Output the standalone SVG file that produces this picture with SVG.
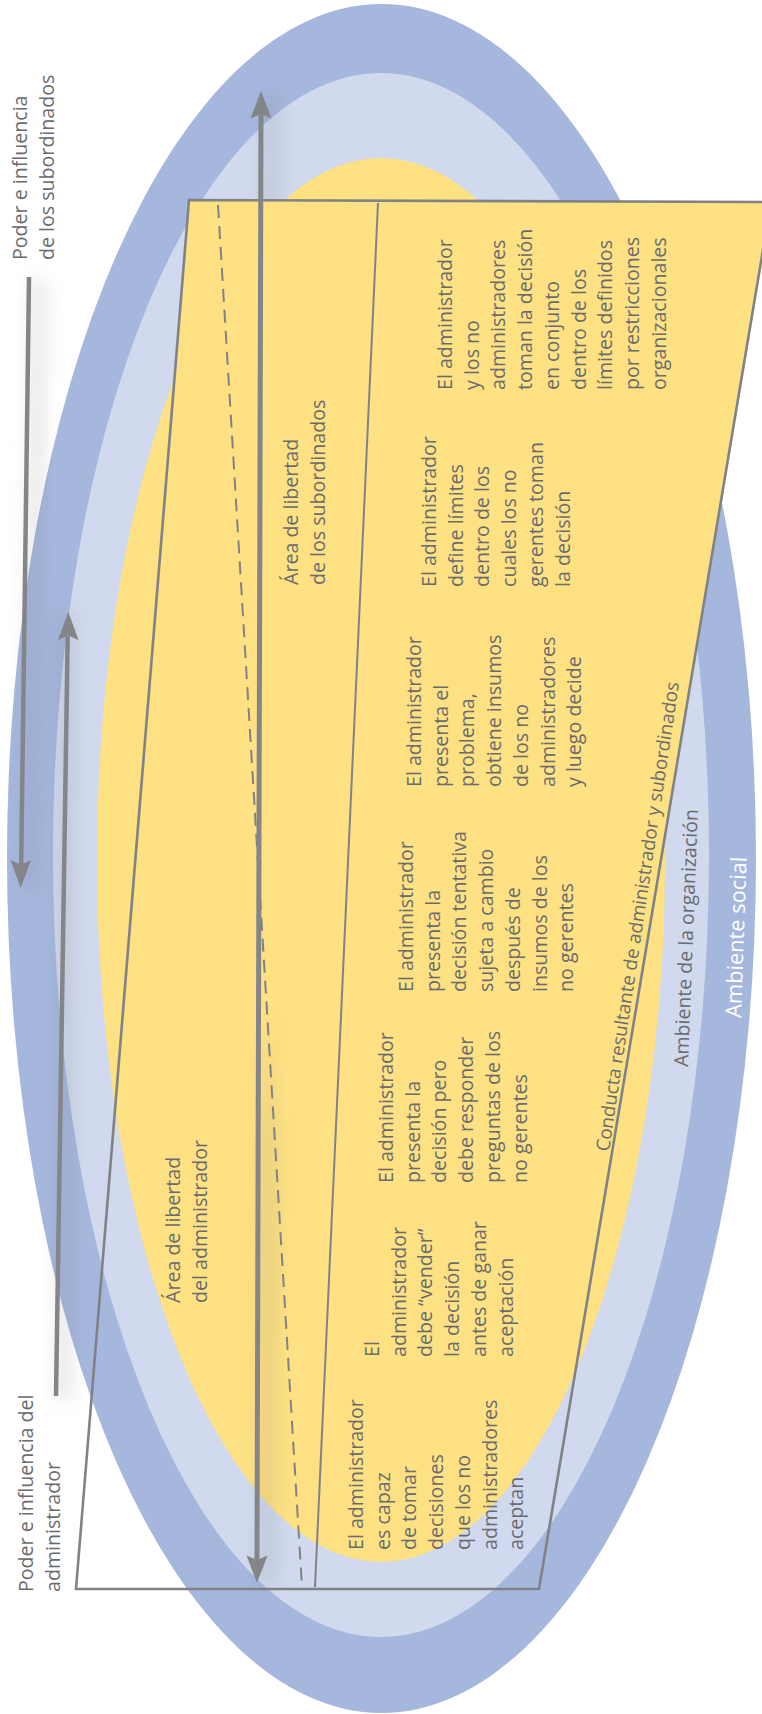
<svg xmlns="http://www.w3.org/2000/svg" width="762" height="1714" viewBox="0 0 762 1714">
  <defs>
    <style>
      .t { font-family: "Open Sans", "Liberation Sans", sans-serif; font-size: 19.6px; fill: #6a6b6f; }
      .c { font-family: "Open Sans", "Liberation Sans", sans-serif; font-size: 18.8px; fill: #6a6b6f; }
      .o { font-family: "Open Sans", "Liberation Sans", sans-serif; font-size: 19.5px; fill: #6a6b6f; }
      .w { font-family: "Open Sans", "Liberation Sans", sans-serif; font-size: 21.8px; fill: #ffffff; }
      .edge { fill: none; stroke: #818286; stroke-width: 2.6; stroke-linejoin: miter; }
      .thin { fill: none; stroke: #818286; stroke-width: 2; }
      .dash { fill: none; stroke: #818286; stroke-width: 2; stroke-dasharray: 13 8; }
      .shaft { fill: none; stroke: #848589; stroke-width: 5; }
      .shaft2 { fill: none; stroke: #848589; stroke-width: 4.5; }
      .head { fill: #848589; stroke: none; }
    </style>
    <linearGradient id="trapFill" gradientUnits="userSpaceOnUse" x1="0" y1="200" x2="0" y2="1589">
      <stop offset="0" stop-color="#fee183" stop-opacity="1"/>
      <stop offset="0.576" stop-color="#fee183" stop-opacity="1"/>
      <stop offset="0.684" stop-color="#fee183" stop-opacity="0"/>
      <stop offset="1" stop-color="#fee183" stop-opacity="0"/>
    </linearGradient>
    <filter id="soft" x="-50%" y="-10%" width="200%" height="120%">
      <feGaussianBlur stdDeviation="9"/>
    </filter>
  </defs>

  <rect x="0" y="0" width="762" height="1714" fill="#ffffff"/>

  <g id="ambiente-social">
    <ellipse cx="381.5" cy="858.5" rx="374.5" ry="854.5" fill="#a6b7dd"/>
  </g>
  <g id="ambiente-organizacion">
    <ellipse cx="381" cy="855" rx="328" ry="782" fill="#d0d9ed"/>
  </g>
  <g id="area-decision">
    <ellipse cx="381" cy="860" rx="284" ry="702" fill="#fee183"/>
  </g>

  <g id="shadows" filter="url(#soft)" opacity="0.22">
    <line x1="271" y1="95" x2="267" y2="1585" stroke="#6e6f73" stroke-width="12"/>
    <line x1="38" y1="280" x2="30" y2="890" stroke="#6e6f73" stroke-width="12"/>
    <line x1="66" y1="615" x2="64" y2="1400" stroke="#6e6f73" stroke-width="12"/>
  </g>

  <g id="conducta">
    <polygon points="189,200 771,202 539,1589 76,1589" fill="url(#trapFill)"/>
    <polygon class="edge" points="189,200 771,202 539,1589 76,1589"/>
  </g>

  <g id="connectors">
    <line class="dash" x1="218" y1="205" x2="302" y2="1587"/>
    <line class="thin" x1="378" y1="203" x2="315" y2="1587"/>
    <line class="shaft" x1="261" y1="112" x2="257" y2="1562"/>
    <polygon class="head" points="261,91 271.5,118.5 261,114 250.5,118.5"/>
    <polygon class="head" points="257,1583 267.5,1555.5 257,1560 246.5,1555.5"/>
    <line class="shaft2" x1="56" y1="1396" x2="67.7" y2="636"/>
    <polygon class="head" points="68.3,612 78.5,640 68,635.5 58,640"/>
    <line class="shaft2" x1="29" y1="277" x2="21.2" y2="864"/>
    <polygon class="head" points="20.7,888 31,860 21,864.5 10.5,860"/>
  </g>

  <g id="label-poder-subordinados">
    <text class="t" transform="translate(27,260) rotate(-90)"><tspan x="0" y="0">Poder e influencia</tspan><tspan x="0" dy="26.7">de los subordinados</tspan></text>
  </g>
  <g id="label-poder-administrador">
    <text class="t" transform="translate(33,1592) rotate(-90)"><tspan x="0" y="0">Poder e influencia del</tspan><tspan x="0" dy="26.7">administrador</tspan></text>
  </g>
  <g id="label-area-subordinados">
    <text class="t" transform="translate(298,585) rotate(-90)"><tspan x="0" y="0">Área de libertad</tspan><tspan x="0" dy="26.7">de los subordinados</tspan></text>
  </g>
  <g id="label-area-administrador">
    <text class="t" transform="translate(180,1303) rotate(-90)"><tspan x="0" y="0">Área de libertad</tspan><tspan x="0" dy="26.7">del administrador</tspan></text>
  </g>

  <g id="col-1">
    <text class="t" transform="translate(363,1550) rotate(-90)"><tspan x="0" y="0">El administrador</tspan><tspan x="0" dy="26.7">es capaz</tspan><tspan x="0" dy="26.7">de tomar</tspan><tspan x="0" dy="26.7">decisiones</tspan><tspan x="0" dy="26.7">que los no</tspan><tspan x="0" dy="26.7">administradores</tspan><tspan x="0" dy="26.7">aceptan</tspan></text>
  </g>
  <g id="col-2">
    <text class="t" transform="translate(379,1357) rotate(-90)"><tspan x="0" y="0">El</tspan><tspan x="0" dy="26.7">administrador</tspan><tspan x="0" dy="26.7">debe “vender”</tspan><tspan x="0" dy="26.7">la decisión</tspan><tspan x="0" dy="26.7">antes de ganar</tspan><tspan x="0" dy="26.7">aceptación</tspan></text>
  </g>
  <g id="col-3">
    <text class="t" transform="translate(393,1183) rotate(-90)"><tspan x="0" y="0">El administrador</tspan><tspan x="0" dy="26.7">presenta la</tspan><tspan x="0" dy="26.7">decisión pero</tspan><tspan x="0" dy="26.7">debe responder</tspan><tspan x="0" dy="26.7">preguntas de los</tspan><tspan x="0" dy="26.7">no gerentes</tspan></text>
  </g>
  <g id="col-4">
    <text class="t" transform="translate(413,992) rotate(-90)"><tspan x="0" y="0">El administrador</tspan><tspan x="0" dy="26.7">presenta la</tspan><tspan x="0" dy="26.7">decisión tentativa</tspan><tspan x="0" dy="26.7">sujeta a cambio</tspan><tspan x="0" dy="26.7">después de</tspan><tspan x="0" dy="26.7">insumos de los</tspan><tspan x="0" dy="26.7">no gerentes</tspan></text>
  </g>
  <g id="col-5">
    <text class="t" transform="translate(421,787) rotate(-90)"><tspan x="0" y="0">El administrador</tspan><tspan x="0" dy="26.7">presenta el</tspan><tspan x="0" dy="26.7">problema,</tspan><tspan x="0" dy="26.7">obtiene insumos</tspan><tspan x="0" dy="26.7">de los no</tspan><tspan x="0" dy="26.7">administradores</tspan><tspan x="0" dy="26.7">y luego decide</tspan></text>
  </g>
  <g id="col-6">
    <text class="t" transform="translate(436,587) rotate(-90)"><tspan x="0" y="0">El administrador</tspan><tspan x="0" dy="26.7">define límites</tspan><tspan x="0" dy="26.7">dentro de los</tspan><tspan x="0" dy="26.7">cuales los no</tspan><tspan x="0" dy="26.7">gerentes toman</tspan><tspan x="0" dy="26.7">la decisión</tspan></text>
  </g>
  <g id="col-7">
    <text class="t" transform="translate(452,390) rotate(-90)"><tspan x="0" y="0">El administrador</tspan><tspan x="0" dy="26.7">y los no</tspan><tspan x="0" dy="26.7">administradores</tspan><tspan x="0" dy="26.7">toman la decisión</tspan><tspan x="0" dy="26.7">en conjunto</tspan><tspan x="0" dy="26.7">dentro de los</tspan><tspan x="0" dy="26.7">límites definidos</tspan><tspan x="0" dy="26.7">por restricciones</tspan><tspan x="0" dy="26.7">organizacionales</tspan></text>
  </g>

  <g id="label-conducta">
    <text class="c" transform="translate(609,1152) rotate(-81.5)">Conducta resultante de administrador y subordinados</text>
  </g>
  <g id="label-ambiente-organizacion">
    <text class="o" transform="translate(688,1067) rotate(-87.8)">Ambiente de la organización</text>
  </g>
  <g id="label-ambiente-social">
    <text class="w" transform="translate(741,1018) rotate(-88)">Ambiente social</text>
  </g>
</svg>
